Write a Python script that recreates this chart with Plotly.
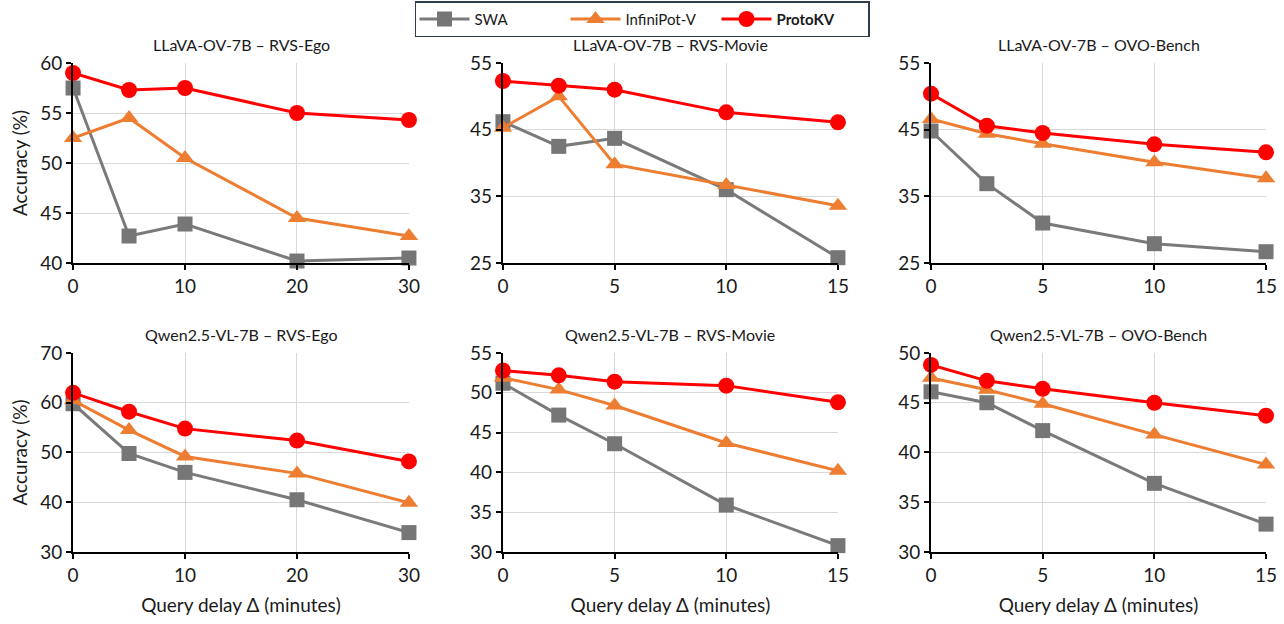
import plotly.graph_objects as go

titles = ["LLaVA-OV-7B – RVS-Ego", "LLaVA-OV-7B – RVS-Movie", "LLaVA-OV-7B – OVO-Bench",
          "Qwen2.5-VL-7B – RVS-Ego", "Qwen2.5-VL-7B – RVS-Movie", "Qwen2.5-VL-7B – OVO-Bench"]

x_ego = [0, 5, 10, 20, 30]
x_short = [0, 2.5, 5, 10, 15]
x_values = [x_ego, x_short, x_short, x_ego, x_short, x_short]

swa = [
    [57.5, 42.7, 43.9, 40.2, 40.5],
    [46.2, 42.5, 43.7, 36.0, 25.8],
    [44.8, 36.9, 31.0, 27.9, 26.7],
    [59.8, 49.8, 46.0, 40.5, 33.9],
    [51.2, 47.2, 43.6, 35.9, 30.8],
    [46.1, 45.0, 42.2, 36.9, 32.8],
]
infinipot = [
    [52.5, 54.5, 50.5, 44.5, 42.7],
    [45.3, 50.0, 39.8, 36.7, 33.6],
    [46.6, 44.4, 42.9, 40.1, 37.7],
    [60.5, 54.5, 49.2, 45.8, 39.9],
    [51.9, 50.4, 48.4, 43.7, 40.2],
    [47.5, 46.3, 44.9, 41.8, 38.8],
]
protokv = [
    [59.0, 57.3, 57.5, 55.0, 54.3],
    [52.3, 51.6, 51.0, 47.6, 46.1],
    [50.4, 45.6, 44.5, 42.8, 41.6],
    [62.0, 58.2, 54.8, 52.4, 48.2],
    [52.8, 52.2, 51.4, 50.9, 48.8],
    [48.8, 47.2, 46.4, 45.0, 43.7],
]

y_ranges = [[40, 60], [25, 55], [25, 55], [30, 70], [30, 55], [30, 50]]
y_dticks = [5, 10, 10, 10, 5, 5]
x_ranges = [[0, 30], [0, 15], [0, 15], [0, 30], [0, 15], [0, 15]]
x_tickvals = [[0, 10, 20, 30], [0, 5, 10, 15], [0, 5, 10, 15],
              [0, 10, 20, 30], [0, 5, 10, 15], [0, 5, 10, 15]]

series_names = ["SWA", "InfiniPot-V", "<b>ProtoKV</b>"]
series_data = [swa, infinipot, protokv]
line_colors = ["#7a7a7a", "#ED7D31", "#FF0000"]
marker_colors = ["#767676", "#ED7D31", "#FF0000"]
symbols = ["square", "triangle-up", "circle"]
msizes = [15, 16, 16]

FONT = "Lato"
TXT = "#1a1a1a"

x_domains = [[0.0569, 0.3185], [0.3917, 0.6526], [0.7251, 0.986]]
y_domains = [[0.5785, 0.899], [0.1154, 0.4343]]

fig = go.Figure()
annotations = []
layout = {}
for i in range(6):
    row, col = divmod(i, 3)
    suffix = "" if i == 0 else str(i + 1)
    for s in range(3):
        fig.add_trace(go.Scatter(
            x=x_values[i], y=series_data[s][i],
            mode="lines+markers",
            name=series_names[s],
            legendgroup=series_names[s],
            showlegend=(i == 0),
            line=dict(color=line_colors[s], width=3),
            marker=dict(symbol=symbols[s], size=msizes[s], color=marker_colors[s]),
            cliponaxis=False,
            xaxis="x" + suffix, yaxis="y" + suffix,
        ))
    xa = dict(
        domain=x_domains[col], range=x_ranges[i], tickvals=x_tickvals[i],
        showgrid=True, gridcolor="#d9d9d9", gridwidth=1,
        showline=True, linecolor="black", linewidth=2,
        ticks="outside", ticklen=5, tickcolor="black", tickwidth=1.5,
        tickfont=dict(family=FONT, size=19, color=TXT),
        anchor="y" + suffix, zeroline=False, automargin=False,
    )
    if row == 1:
        xa["title"] = dict(text="Query delay Δ (minutes)", font=dict(family=FONT, size=19, color=TXT), standoff=14)
    ya = dict(
        domain=y_domains[row], range=y_ranges[i], dtick=y_dticks[i], tick0=y_ranges[i][0],
        showgrid=True, gridcolor="#d9d9d9", gridwidth=1,
        showline=True, linecolor="black", linewidth=2,
        ticks="outside", ticklen=5, tickcolor="black", tickwidth=1.5,
        tickfont=dict(family=FONT, size=19, color=TXT),
        anchor="x" + suffix, zeroline=False, automargin=False,
    )
    if col == 0:
        ya["title"] = dict(text="Accuracy (%)", font=dict(family=FONT, size=19, color=TXT), standoff=8)
    layout["xaxis" + suffix] = xa
    layout["yaxis" + suffix] = ya
    annotations.append(dict(
        text=titles[i], xref="paper", yref="paper",
        x=sum(x_domains[col]) / 2, y=y_domains[row][1] + 0.012,
        xanchor="center", yanchor="bottom", showarrow=False,
        font=dict(family=FONT, size=16, color=TXT),
    ))

fig.update_layout(**layout)
fig.update_layout(
    width=1284, height=624,
    margin=dict(l=0, r=0, t=0, b=0, autoexpand=False),
    plot_bgcolor="white", paper_bgcolor="white",
    annotations=annotations,
    font=dict(family=FONT, color=TXT),
    legend=dict(
        orientation="h", x=0.5, xanchor="center", y=0.998, yanchor="top",
        bordercolor="#2f3e4e", borderwidth=1.5, bgcolor="white",
        font=dict(family=FONT, size=15, color=TXT),
        itemwidth=50, entrywidth=86, tracegroupgap=0,
    ),
)

fig.write_html("out.html", config={"displayModeBar": False},
               post_script="document.body.style.margin='0';document.body.style.overflow='hidden';")
